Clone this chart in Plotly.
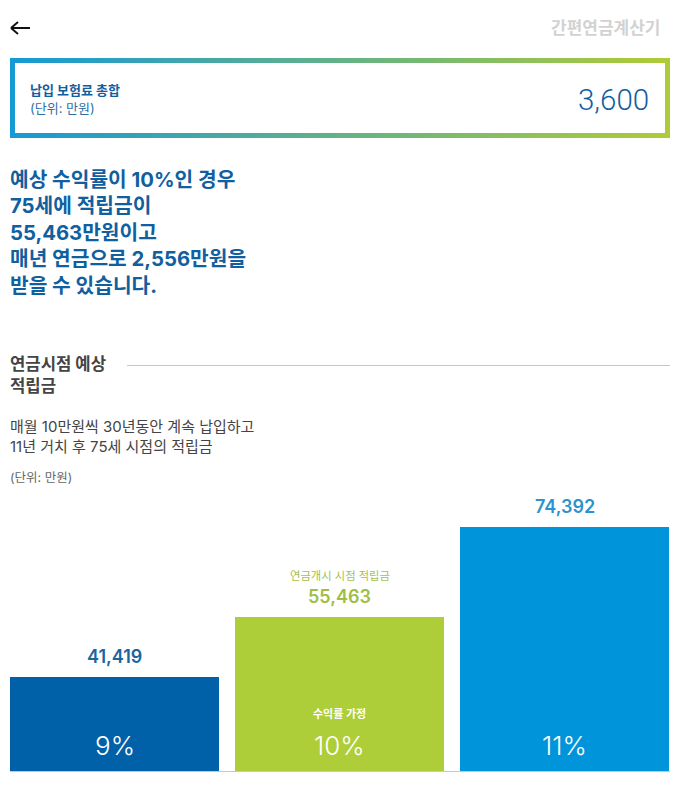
# pension calculator result screen: three bars plus the text around them
import plotly.graph_objects as go

W, H = 681, 794

rates = ["9%", "10%", "11%"]
amounts = [41419, 55463, 74392]
# bars in the picture are not to scale with the amounts, height as % of the tallest bar
bar_heights = [38.5, 63.1, 100]
bar_colors = ["#0061A8", "#ADCE38", "#0095DA"]
label_colors = ["#1B659F", "#A0BE45", "#2B93CE"]

total_label = "납입 보험료 총합"
unit_label = "(단위: 만원)"
total_value = "3,600"
headline = [
    "예상 수익률이 10%인 경우",
    "75세에 적립금이",
    "55,463만원이고",
    "매년 연금으로 2,556만원을",
    "받을 수 있습니다.",
]
section_title = ["연금시점 예상", "적립금"]
section_text = ["매월 10만원씩 30년동안 계속 납입하고", "11년 거치 후 75세 시점의 적립금"]

KR = "Inter, 'Noto Sans CJK KR'"
NUM = "Inter"
BLUE = "#10609F"


def px(x):
    return x / W


def py(y):
    return 1 - y / H


def text(fig, s, x, y, size, color, weight=400, anchor="left", family=KR):
    # annotations keep about 2px of padding around the text
    x = x - 2 if anchor == "left" else x + 2
    fig.add_annotation(
        text=s, x=px(x), y=py(y), xref="paper", yref="paper",
        xanchor=anchor, yanchor="middle", align=anchor, showarrow=False,
        font=dict(family=family, size=size, color=color, weight=weight),
    )


def rect(fig, x0, y0, x1, y1, color):
    fig.add_shape(
        type="rect", xref="paper", yref="paper", layer="below",
        x0=px(x0), x1=px(x1), y0=py(y0), y1=py(y1),
        fillcolor=color, line_width=0,
    )


def line(fig, x0, y0, x1, y1, color, width):
    fig.add_shape(
        type="line", xref="paper", yref="paper",
        x0=px(x0), x1=px(x1), y0=py(y0), y1=py(y1),
        line=dict(color=color, width=width),
    )


fig = go.Figure()

fig.add_trace(go.Bar(
    x=rates,
    y=bar_heights,
    marker=dict(color=bar_colors, line_width=0),
    hoverinfo="skip",
))

# gradient frame, plotly shapes have no gradient so it is cut in thin strips
left = (0x17, 0x99, 0xD6)
right = (0xAF, 0xCB, 0x37)
steps = 132
for i in range(steps):
    t = i / (steps - 1)
    c = [round(a + (b - a) * t) for a, b in zip(left, right)]
    x0 = 10 + 660 * i / steps
    x1 = 10 + 660 * (i + 1) / steps + 0.5
    rect(fig, x0, 58, min(x1, 670), 138, f"rgb({c[0]},{c[1]},{c[2]})")
rect(fig, 15, 63, 665, 133, "white")

# back arrow
line(fig, 11, 28, 30, 28, "#111111", 2)
line(fig, 11, 28, 18, 22, "#111111", 2)
line(fig, 11, 28, 18, 34, "#111111", 2)

text(fig, "간편연금계산기", 660, 28, 17, "#D2D2D2", 700, "right")
text(fig, total_label, 30, 90, 13, BLUE, 700)
text(fig, unit_label, 30, 108, 13, "#2F6FA8")
text(fig, total_value, 649, 100, 29.5, BLUE, 300, "right", "Roboto")

text(fig, "<br>".join(headline), 10, 233, 20.3, BLUE, 700)

text(fig, "<br>".join(section_title), 10, 375, 16.7, "#444444", 700)
line(fig, 127, 365.5, 670, 365.5, "#C8C8C8", 1)

text(fig, "<br>".join(section_text), 10, 436, 15, "#444444")
text(fig, unit_label, 10, 477, 12.5, "#666666")

# labels on the bars
for i, rate in enumerate(rates):
    fig.add_annotation(
        x=rate, y=bar_heights[i], yanchor="bottom", yshift=8, showarrow=False,
        text=f"{amounts[i]:,}",
        font=dict(family=NUM, size=18, color=label_colors[i], weight=600),
    )
    fig.add_annotation(
        x=rate, y=py(745.5), yref="paper", yanchor="middle", showarrow=False,
        text=rate,
        font=dict(family=NUM, size=26, color="white", weight=300),
    )

fig.add_annotation(
    x=rates[1], y=py(576), yref="paper", yanchor="middle", showarrow=False,
    text="연금개시 시점 적립금",
    font=dict(family=KR, size=11.3, color="#A4C04C"),
)
fig.add_annotation(
    x=rates[1], y=py(714), yref="paper", yanchor="middle", showarrow=False,
    text="수익률 가정",
    font=dict(family=KR, size=11, color="white", weight=700),
)

line(fig, 10, 771.5, 670, 771.5, "#C8C8C8", 1)

fig.update_layout(
    width=W,
    height=H,
    margin=dict(l=0, r=0, t=0, b=0),
    paper_bgcolor="white",
    plot_bgcolor="white",
    showlegend=False,
    bargap=16 / 225,
    xaxis=dict(domain=[px(2), px(677)], visible=False, type="category"),
    yaxis=dict(domain=[py(771), py(527)], range=[0, 100], visible=False),
)

fig.write_html(
    "out.html",
    config={"displayModeBar": False},
    post_script="document.body.style.margin='0';",
)
